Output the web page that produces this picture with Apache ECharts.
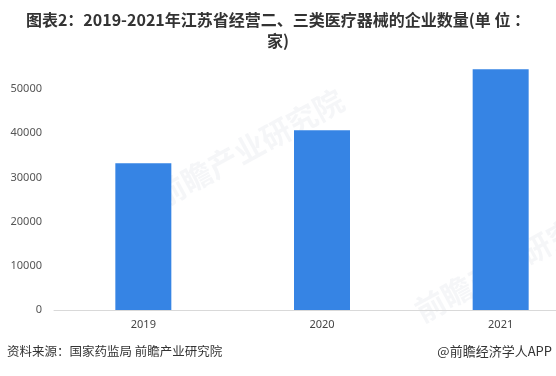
<!DOCTYPE html>
<html><head><meta charset="utf-8">
<script src="https://cdn.jsdelivr.net/npm/echarts@6/dist/echarts.min.js"></script>
<style>html,body{margin:0;padding:0;background:#fff}#c{width:556px;height:376px}</style>
</head><body><div id="c"></div>
<script>
const categories = ['2019', '2020', '2021'];
const values = [33200, 40700, 54500];
const titleText = '图表2：2019-2021年江苏省经营二、三类医疗器械的企业数量(单 位 ：\n家)';
const sourceText = '资料来源：国家药监局 前瞻产业研究院';
const brandText = '@前瞻经济学人APP';

const chart = echarts.init(document.getElementById('c'), null, {renderer: 'canvas'});
chart.setOption({
  animation: false,
  backgroundColor: '#fff',
  title: {
    text: titleText, left: 'center', top: 4,
    textStyle: {fontSize: 16, fontWeight: 'bold', color: '#333', lineHeight: 21, fontFamily: 'Noto Sans CJK SC'}
  },
  grid: {left: 54, right: -34, top: 45, bottom: 66, outerBoundsMode: 'none', containLabel: false},
  xAxis: {
    type: 'category', data: categories,
    axisLine: {lineStyle: {color: '#d9d9d9'}},
    axisTick: {show: false},
    axisLabel: {color: '#444', fontSize: 11, margin: 9, fontFamily: 'Noto Sans'}
  },
  yAxis: {
    type: 'value', min: 0, max: 60000, interval: 10000,
    splitLine: {show: false}, axisLine: {show: false}, axisTick: {show: false},
    axisLabel: {color: '#555', fontSize: 11, margin: 12, showMaxLabel: false, fontFamily: 'Noto Sans',
      formatter: v => String(v)}
  },
  series: [{
    type: 'bar', data: values, barWidth: 56,
    itemStyle: {color: '#3684e4'}
  }],
  graphic: [
    {type: 'text', left: 7, top: 345, style: {text: sourceText, fontSize: 12.5, fill: '#333', fontFamily: 'Noto Sans CJK SC'}},
    {type: 'text', right: 4, top: 345, style: {text: brandText, fontSize: 13, fill: '#333', fontFamily: 'Noto Sans CJK SC'}},
    {type: 'text', x: 150, y: 185, rotation: 0.5, z: -1, style: {text: '前瞻产业研究院', fontSize: 30, fontWeight: 'bold', fill: 'rgba(200,205,215,0.18)', fontFamily: 'Noto Sans CJK SC'}},
    {type: 'text', x: 410, y: 300, rotation: 0.5, z: -1, style: {text: '前瞻产业研究院', fontSize: 30, fontWeight: 'bold', fill: 'rgba(200,205,215,0.18)', fontFamily: 'Noto Sans CJK SC'}}
  ]
});
</script></body></html>
